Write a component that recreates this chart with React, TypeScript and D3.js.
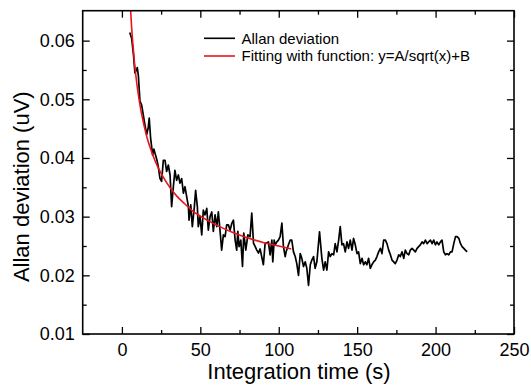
import { useEffect, useRef } from "react";
import * as d3 from "d3";

// Allan deviation samples
const allanTime = [
  5, 6.2, 7.3, 8.3, 9.3, 9.8, 10.5, 11.5, 12.6, 13.6, 14.7, 15.8, 16.8, 17.4, 18.3, 19.6, 20.4,
  21.1, 22.2, 23.2, 24.3, 25.3, 26.4, 27.5, 28.5, 29.6, 30.7, 31.7, 32.8, 33.8, 34.9, 36.0, 37.0, 38.1, 39.2, 40.2, 41.3,
  42.4, 42.8, 43.9, 44.9, 46.2, 47.0, 48.1, 48.7, 49.8, 50.9, 51.9, 53.0, 54.1, 55.1, 56.2, 57.3, 58.3, 59.4, 60.5, 61.5,
  62.6, 63.6, 64.7, 65.8, 66.8, 67.9, 69.0, 70.0, 71.1, 72.2, 73.2, 73.9, 74.7, 75.8, 76.9, 77.7, 79.0, 80.3, 81.7, 82.8,
  83.9, 85.0, 86.0, 87.1, 88.1,
  90.2, 91.3, 93.4, 94.5, 95.6, 96.2, 97.1, 97.7, 98.8, 99.8, 100.9, 102.0, 103.0, 104.1, 104.7, 106.2, 107.3, 108.3, 109.4, 110.5,
  111.5, 112.6, 113.7, 114.7, 115.8, 116.9, 117.9, 119.0, 120.1, 121.1, 122.2, 123.2, 124.3, 126.0, 127.5, 128.6, 129.6, 130.7, 131.8, 132.8,
  133.9, 135.0, 136.0, 137.1, 138.2, 139.2, 140.3, 141.3, 142.4, 143.5, 144.5, 145.6, 146.7, 147.7, 148.8, 149.9, 150.9, 152.0, 153.1, 154.1,
  155.2, 156.2, 157.3, 158.4, 159.4, 160.5, 161.6, 162.6, 163.7, 164.8, 165.8, 166.9, 168.0, 169.0, 170.1, 171.2, 172.2, 173.3, 174.3, 175.4,
  176.5, 177.5, 178.6, 179.7, 180.7, 181.8, 182.9, 183.9, 185.0, 186.1, 187.1, 188.2, 189.2, 190.3, 191.4, 192.4, 193.5, 194.6, 195.6, 196.7,
  197.8, 198.8, 199.9, 200.9, 202.0, 203.1, 204.1, 205.2, 206.3, 207.3, 208.4, 209.5, 210.5, 211.6, 212.7, 213.7, 214.8, 215.9, 216.9, 218.0,
  219.0, 220.1,
];
const allanDev = [
  0.0614, 0.0604, 0.0578, 0.0545, 0.055, 0.0554, 0.054, 0.0497, 0.049, 0.0474, 0.0456, 0.044, 0.0452, 0.0468, 0.0434, 0.0405, 0.0415,
  0.0408, 0.0398, 0.0385, 0.0365, 0.036, 0.0396, 0.0396, 0.0377, 0.0388, 0.0371, 0.0317, 0.0351, 0.0379, 0.0362, 0.0371, 0.0357, 0.0365, 0.034, 0.0351, 0.0334,
  0.0317, 0.0294, 0.032, 0.0283, 0.0317, 0.0345, 0.0317, 0.0283, 0.03, 0.0269, 0.0311, 0.0303, 0.0314, 0.0277, 0.03, 0.0308, 0.0275, 0.0303, 0.0283, 0.0308,
  0.0275, 0.0243, 0.0269, 0.0266, 0.0286, 0.0286, 0.0277, 0.0288, 0.0294, 0.026, 0.0243, 0.0275, 0.0249, 0.026, 0.0215, 0.0272, 0.0243, 0.0269, 0.0266, 0.0306,
  0.0255, 0.0249, 0.0243, 0.0238, 0.0245,
  0.0218, 0.0254, 0.0257, 0.0235, 0.026, 0.0223, 0.026, 0.0252, 0.0257, 0.026, 0.0266, 0.0289, 0.0249, 0.0232, 0.024, 0.0252, 0.026, 0.026, 0.024, 0.0232,
  0.022, 0.02, 0.0237, 0.0229, 0.0215, 0.0223, 0.0212, 0.0183, 0.0218, 0.0226, 0.0232, 0.0212, 0.0223, 0.0274, 0.0229, 0.0209, 0.0223, 0.0209, 0.024, 0.0232,
  0.0237, 0.0235, 0.0254, 0.024, 0.026, 0.0283, 0.0252, 0.0254, 0.024, 0.0257, 0.0246, 0.026, 0.0243, 0.0263, 0.0252, 0.0237, 0.024, 0.022, 0.0229, 0.0218,
  0.0223, 0.0218, 0.0229, 0.0212, 0.0218, 0.0223, 0.0226, 0.0232, 0.024, 0.0246, 0.0237, 0.026, 0.026, 0.0254, 0.0243, 0.0235, 0.0226, 0.0223, 0.022, 0.0226,
  0.0235, 0.0232, 0.024, 0.0229, 0.0243, 0.0237, 0.0235, 0.0243, 0.0246, 0.0243, 0.024, 0.0246, 0.0249, 0.0252, 0.0257, 0.0254, 0.026, 0.0254, 0.0257, 0.026,
  0.0254, 0.026, 0.0252, 0.0257, 0.0252, 0.0257, 0.026, 0.024, 0.0235, 0.0237, 0.0235, 0.024, 0.024, 0.0254, 0.0266, 0.0266, 0.0263, 0.0254, 0.0249, 0.0246,
  0.0243, 0.024,
];

// points read along the red fitted curve y = A/sqrt(x) + B
const fitTime = [5, 6, 7, 8, 9, 10, 12, 14, 16, 18, 20, 23, 26, 30, 35, 40, 45, 50, 60, 70, 80, 90, 100, 108];
const fitDev = [
  0.0679, 0.0631, 0.0594, 0.0563, 0.0538, 0.0517, 0.0483, 0.0457, 0.0435, 0.0418, 0.0403, 0.0384, 0.0369, 0.0352,
  0.0335, 0.0322, 0.031, 0.0301, 0.0286, 0.0274, 0.0264, 0.0256, 0.025, 0.0245,
];

const xTicks = [0, 50, 100, 150, 200, 250];
const xMinor = [25, 75, 125, 175, 225];
const yTicks = [0.01, 0.02, 0.03, 0.04, 0.05, 0.06];
const yMinor = [0.015, 0.025, 0.035, 0.045, 0.055];

const legendLabels = ["Allan deviation", "Fitting with function: y=A/sqrt(x)+B"];
const legendColors = ["#000", "#e8141b"];

const FONT = "'Liberation Sans', Arial, sans-serif";

export default function App() {
  const ref = useRef<SVGSVGElement | null>(null);

  useEffect(() => {
    if (!ref.current) return;

    const width = 531;
    const height = 386;
    const margin = { top: 10.7, right: 17, bottom: 52, left: 82.7 };

    const svg = d3.select(ref.current)
      .attr("width", width)
      .attr("height", height);

    svg.selectAll("*").remove();

    const innerWidth = width - margin.left - margin.right;
    const innerHeight = height - margin.top - margin.bottom;

    const g = svg.append("g")
      .attr("transform", `translate(${margin.left},${margin.top})`);

    const x = d3.scaleLinear().domain([-25, 250]).range([0, innerWidth]);
    const y = d3.scaleLinear().domain([0.01, 0.0651]).range([innerHeight, 0]);

    g.append("clipPath")
      .attr("id", "plot-clip")
      .append("rect")
      .attr("width", innerWidth)
      .attr("height", innerHeight);

    // --- data line
    const allan = allanTime.map((t, i) => [t, allanDev[i]] as [number, number]);
    const line = d3.line<[number, number]>()
      .x(d => x(d[0]))
      .y(d => y(d[1]));

    g.append("path")
      .datum(allan)
      .attr("clip-path", "url(#plot-clip)")
      .attr("d", line)
      .attr("fill", "none")
      .attr("stroke", legendColors[0])
      .attr("stroke-width", 1.7)
      .attr("stroke-linejoin", "round");

    // --- fitted curve
    const fit = fitTime.map((t, i) => [t, fitDev[i]] as [number, number]);
    g.append("path")
      .datum(fit)
      .attr("clip-path", "url(#plot-clip)")
      .attr("d", line.curve(d3.curveMonotoneX))
      .attr("fill", "none")
      .attr("stroke", legendColors[1])
      .attr("stroke-width", 1.6);

    // --- axes (ticks pointing inward)
    const styleAxis = (sel: d3.Selection<SVGGElement, unknown, null, undefined>) => {
      sel.select(".domain").remove();
      sel.selectAll("line").attr("stroke", "#000").attr("stroke-width", 1.3);
      sel.selectAll("text").attr("font-family", FONT).attr("font-size", 18).attr("fill", "#000");
    };

    g.append("g")
      .attr("transform", `translate(0,${innerHeight})`)
      .call(d3.axisBottom(x).tickValues(xTicks).tickSize(-7).tickPadding(9).tickFormat(d3.format("d")))
      .call(styleAxis);
    g.append("g")
      .attr("transform", `translate(0,${innerHeight})`)
      .call(d3.axisBottom(x).tickValues(xMinor).tickSize(-4).tickFormat(() => ""))
      .call(styleAxis);
    g.append("g")
      .call(d3.axisTop(x).tickValues(xTicks).tickSize(-7).tickFormat(() => ""))
      .call(styleAxis);
    g.append("g")
      .call(d3.axisTop(x).tickValues(xMinor).tickSize(-4).tickFormat(() => ""))
      .call(styleAxis);

    g.append("g")
      .call(d3.axisLeft(y).tickValues(yTicks).tickSize(-7).tickPadding(8).tickFormat(d3.format(".2f")))
      .call(styleAxis);
    g.append("g")
      .call(d3.axisLeft(y).tickValues(yMinor).tickSize(-4).tickFormat(() => ""))
      .call(styleAxis);
    g.append("g")
      .attr("transform", `translate(${innerWidth},0)`)
      .call(d3.axisRight(y).tickValues(yTicks).tickSize(-7).tickFormat(() => ""))
      .call(styleAxis);
    g.append("g")
      .attr("transform", `translate(${innerWidth},0)`)
      .call(d3.axisRight(y).tickValues(yMinor).tickSize(-4).tickFormat(() => ""))
      .call(styleAxis);

    // frame
    g.append("rect")
      .attr("width", innerWidth)
      .attr("height", innerHeight)
      .attr("fill", "none")
      .attr("stroke", "#000")
      .attr("stroke-width", 1.6);

    // --- axis titles
    svg.append("text")
      .attr("x", 299)
      .attr("y", 379)
      .attr("text-anchor", "middle")
      .attr("font-family", FONT)
      .attr("font-size", 22)
      .text("Integration time (s)");

    svg.append("text")
      .attr("transform", `translate(29,${186.7}) rotate(-90)`)
      .attr("text-anchor", "middle")
      .attr("font-family", FONT)
      .attr("font-size", 22)
      .text("Allan deviation (uV)");

    // --- legend
    const legend = svg.append("g");
    legendLabels.forEach((label, i) => {
      const ly = 38.3 + i * 17.7;
      legend.append("line")
        .attr("x1", 204).attr("x2", 235)
        .attr("y1", ly).attr("y2", ly)
        .attr("stroke", legendColors[i])
        .attr("stroke-width", 1.6);
      legend.append("text")
        .attr("x", 241.5)
        .attr("y", ly)
        .attr("dy", "0.35em")
        .attr("font-family", FONT)
        .attr("font-size", 15)
        .text(label);
    });
  }, []);

  return (
    <svg ref={ref} style={{ position: "absolute", left: 0, top: 0, background: "#fff" }}></svg>
  );
}
